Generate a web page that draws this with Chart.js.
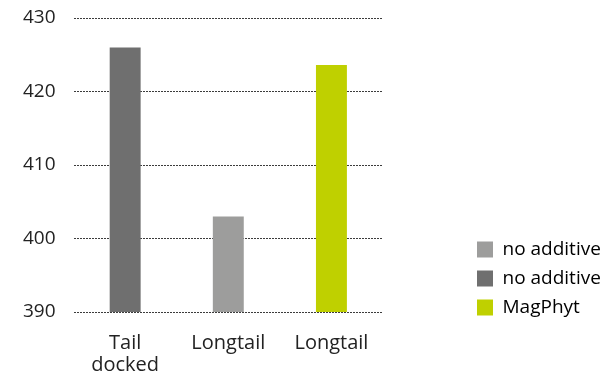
<!DOCTYPE html>
<html>
<head>
<meta charset="utf-8">
<script src="https://cdn.jsdelivr.net/npm/chart.js@4/dist/chart.umd.min.js"></script>
<style>
  html,body{margin:0;padding:0;background:#fff;}
  #wrap{width:604px;height:376px;}
</style>
</head>
<body>
<div id="wrap"><canvas id="bars" width="604" height="376"></canvas></div>
<script>
const categories = [['Tail','docked'], 'Longtail', 'Longtail'];
const values = [426, 403, 423.6];
const barColors = ['#6f6f6f', '#9d9d9c', '#bfd000'];
const legendLabels = ['no additive', 'no additive', 'MagPhyt'];
const legendColors = ['#9d9d9c', '#6f6f6f', '#bfd000'];
const yTicks = [390, 400, 410, 420, 430];

const txt = '#222';
const family = "'Open Sans', sans-serif";

// legend box ends at the plot bottom; drop it a little so the last row sits on the 390 line
const legendDrop = {
  id: 'legendDrop',
  afterLayout(chart) {
    chart.legend.top += 15;
    chart.legend.bottom += 15;
  }
};

new Chart(document.getElementById('bars').getContext('2d'), {
  type: 'bar',
  data: {
    labels: categories,
    datasets: [{ data: values, backgroundColor: barColors, barPercentage: 0.3, categoryPercentage: 1 }]
  },
  options: {
    responsive: false,
    animation: false,
    layout: { padding: { left: 23, top: 18, right: 0, bottom: 0 } },
    plugins: {
      tooltip: { enabled: false },
      legend: {
        position: 'right',
        align: 'end',
        fullSize: false,
        maxWidth: 137,
        labels: {
          boxWidth: 16, boxHeight: 16, padding: 10, color: txt,
          font: { family, size: 19 },
          generateLabels: () => legendLabels.map((t, i) => ({
            text: t, fillStyle: legendColors[i], strokeStyle: legendColors[i], lineWidth: 0, hidden: false, index: i
          }))
        },
        onClick: null
      }
    },
    scales: {
      x: {
        grid: { display: true, drawOnChartArea: false, drawTicks: true, tickLength: 18, tickColor: 'rgba(0,0,0,0)', color: 'rgba(0,0,0,0)' },
        border: { display: false },
        ticks: { color: txt, font: { family, size: 20, lineHeight: 1.1 }, padding: 2, maxRotation: 0 },
        afterFit: s => { s.height = 64; }
      },
      y: {
        min: 390, max: 430,
        afterBuildTicks: s => { s.ticks = yTicks.map(v => ({ value: v })); },
        grid: { color: '#3c3c3c', lineWidth: 1, drawTicks: true, tickLength: 18, tickColor: 'rgba(0,0,0,0)' },
        border: { display: false, dash: [2, 1] },
        ticks: { color: txt, font: { family, size: 19 }, padding: 0 }
      },
      // empty right-hand axis that keeps the gap before the legend
      gap: {
        position: 'right',
        display: true,
        grid: { display: false },
        border: { display: false },
        ticks: { display: false },
        afterFit: s => { s.width = 84; }
      }
    }
  },
  plugins: [legendDrop]
});
</script>
</body>
</html>
